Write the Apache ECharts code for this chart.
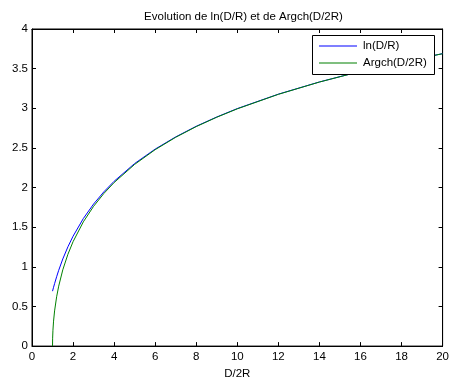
<!DOCTYPE html>
<html><head><meta charset="utf-8">
<script src="https://cdn.jsdelivr.net/npm/echarts@6/dist/echarts.min.js"></script>
<style>html,body{margin:0;padding:0;background:#fff}#c{width:452px;height:385px}</style>
</head><body><div id="c"></div>
<script>
var titleText = 'Evolution de ln(D/R) et de Argch(D/2R)';
var xName = 'D/2R';
var seriesNames = ['ln(D/R)', 'Argch(D/2R)'];
var xTicks = [0, 2, 4, 6, 8, 10, 12, 14, 16, 18, 20];
var yTicks = [0, 0.5, 1, 1.5, 2, 2.5, 3, 3.5, 4];

var lnX = [1, 1.05, 1.1, 1.2, 1.3, 1.5, 1.75, 2, 2.5, 3, 3.5, 4, 5, 6, 7, 8, 9, 10, 12, 14, 16, 18, 20];
var lnY = [0.693, 0.742, 0.788, 0.875, 0.956, 1.099, 1.253, 1.386, 1.609, 1.792, 1.946, 2.079, 2.303, 2.485, 2.639, 2.773, 2.890, 2.996, 3.178, 3.332, 3.466, 3.584, 3.689];

var acX = [1, 1.005, 1.02, 1.05, 1.1, 1.2, 1.3, 1.5, 1.75, 2, 2.5, 3, 3.5, 4, 5, 6, 7, 8, 9, 10, 12, 14, 16, 18, 20];
var acY = [0, 0.100, 0.200, 0.315, 0.444, 0.622, 0.756, 0.962, 1.159, 1.317, 1.567, 1.763, 1.925, 2.063, 2.292, 2.478, 2.634, 2.769, 2.887, 2.993, 3.176, 3.331, 3.465, 3.583, 3.688];

function pairs(xs, ys) { return xs.map(function (x, i) { return [x, ys[i]]; }); }

var font = 'Liberation Sans, Arial, sans-serif';
var fs = 11.5;
var chart = echarts.init(document.getElementById('c'), null, {renderer: 'canvas'});
var L = 32, R = 445, T = 29, B = 354;
chart.setOption({
  animation: false,
  backgroundColor: '#fff',
  title: {text: titleText, left: (L + R) / 2, textAlign: 'center', top: 6,
    textStyle: {fontFamily: font, fontSize: fs, fontWeight: 'normal', color: '#000'}},
  grid: {left: L, right: 452 - R, top: T, bottom: 385 - B, show: true, borderColor: '#000', borderWidth: 1, backgroundColor: 'transparent'},
  xAxis: [
    {type: 'value', min: 0, max: 20, interval: 2, name: xName, nameLocation: 'middle', nameGap: 19,
     nameTextStyle: {fontFamily: font, fontSize: fs, color: '#000'},
     axisLine: {show: true, onZero: false, lineStyle: {color: '#000'}},
     axisTick: {show: true, inside: true, length: 4, lineStyle: {color: '#000'}},
     axisLabel: {fontFamily: font, fontSize: fs, color: '#000', margin: 5},
     splitLine: {show: false}},
    {type: 'value', position: 'top', min: 0, max: 20, interval: 2,
     axisLine: {show: true, onZero: false, lineStyle: {color: '#000'}},
     axisTick: {show: true, inside: true, length: 4, lineStyle: {color: '#000'}},
     axisLabel: {show: false}, splitLine: {show: false}}
  ],
  yAxis: [
    {type: 'value', min: 0, max: 4, interval: 0.5,
     axisLine: {show: true, onZero: false, lineStyle: {color: '#000'}},
     axisTick: {show: true, inside: true, length: 4, lineStyle: {color: '#000'}},
     axisLabel: {fontFamily: font, fontSize: fs, color: '#000', margin: 4},
     splitLine: {show: false}},
    {type: 'value', position: 'right', min: 0, max: 4, interval: 0.5,
     axisLine: {show: true, onZero: false, lineStyle: {color: '#000'}},
     axisTick: {show: true, inside: true, length: 4, lineStyle: {color: '#000'}},
     axisLabel: {show: false}, splitLine: {show: false}}
  ],
  legend: {orient: 'vertical', left: 319, top: 40, itemGap: 5, itemWidth: 38, itemHeight: 1,
    icon: 'rect', padding: 0, z: 20, zlevel: 0,
    textStyle: {fontFamily: font, fontSize: fs, color: '#000', padding: [0, 0, 0, 1]},
    data: seriesNames},
  graphic: [{type: 'rect', shape: {x: 312.5, y: 35.5, width: 122, height: 39}, z: 10,
    style: {fill: '#fff', stroke: '#000', lineWidth: 1}}],
  series: [
    {name: seriesNames[0], type: 'line', data: pairs(lnX, lnY), showSymbol: false, symbol: 'none',
     color: '#0000ff', lineStyle: {color: '#0000ff', width: 1}, z: 2},
    {name: seriesNames[1], type: 'line', data: pairs(acX, acY), showSymbol: false, symbol: 'none',
     color: '#008000', lineStyle: {color: '#008000', width: 1}, z: 3}
  ]
});
</script></body></html>
